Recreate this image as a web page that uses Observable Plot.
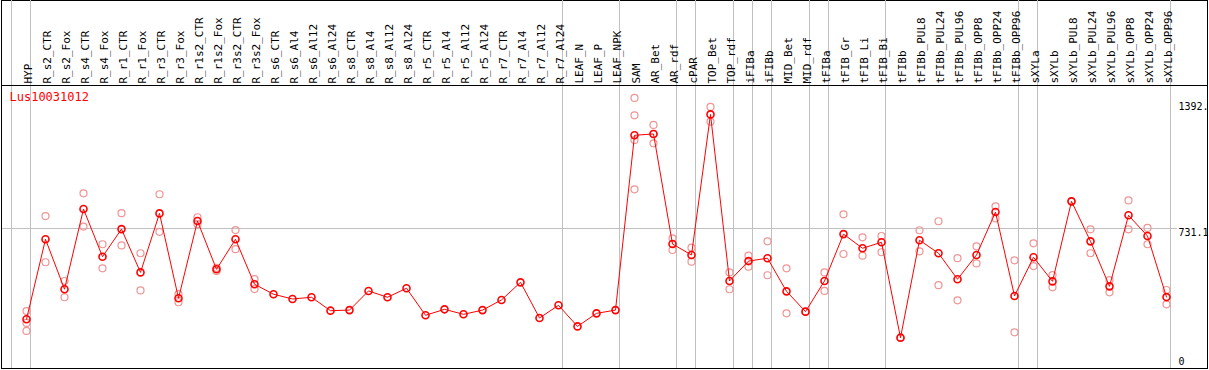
<!DOCTYPE html>
<html><head><meta charset="utf-8">
<script src="https://cdn.jsdelivr.net/npm/d3@7"></script>
<script src="https://cdn.jsdelivr.net/npm/@observablehq/plot@0.6"></script>
<style>body{margin:0;background:#fff} svg{display:block}</style>
</head><body><div id="chart"></div>
<script>
const geneId = "Lus10031012";
const tissues = ["HYP","R_s2_CTR","R_s2_Fox","R_s4_CTR","R_s4_Fox","R_r1_CTR","R_r1_Fox","R_r3_CTR","R_r3_Fox","R_r1s2_CTR","R_r1s2_Fox","R_r3s2_CTR","R_r3s2_Fox","R_s6_CTR","R_s6_Al4","R_s6_Al12","R_s6_Al24","R_s8_CTR","R_s8_Al4","R_s8_Al12","R_s8_Al24","R_r5_CTR","R_r5_Al4","R_r5_Al12","R_r5_Al24","R_r7_CTR","R_r7_Al4","R_r7_Al12","R_r7_Al24","LEAF_N","LEAF_P","LEAF_NPK","SAM","AR_Bet","AR_rdf","cPAR","TOP_Bet","TOP_rdf","iFIBa","iFIBb","MID_Bet","MID_rdf","tFIBa","tFIB_Gr","tFIB_Li","tFIB_Bi","tFIBb","tFIBb_PUL8","tFIBb_PUL24","tFIBb_PUL96","tFIBb_OPP8","tFIBb_OPP24","tFIBb_OPP96","sXYLa","sXYLb","sXYLb_PUL8","sXYLb_PUL24","sXYLb_PUL96","sXYLb_OPP8","sXYLb_OPP24","sXYLb_OPP96"];
const means = [257,675,414,833,584,728,502,810,367,770,518,675,440,388,363,372,302,305,405,372,419,278,309,283,305,358,450,264,330,220,288,305,1218,1225,650,593,1327,457,561,576,403,297,457,702,628,659,161,670,602,466,593,817,379,581,455,873,664,429,800,692,373];
const replicates = [[300,238,196],[796,555],[457,372],[915,741],[649,523],[811,643],[602,408],[910,714],[388,346],[790,753],[526,509],[723,623],[467,415],[],[],[],[],[],[],[],[],[],[],[],[],[],[],[],[],[],[],[],[1413,1322,1193,936],[1272,1225,1176],[680,619],[631,558],[1366,1289],[502,414],[589,532],[664,487],[523,288],[297],[502,405],[805,598],[685,589],[692,607],[161],[722,612],[769,435],[576,356],[638,549],[847,784],[565,189],[654,535],[488,424],[873],[727,602],[462,398],[878,727],[734,649],[410,335]];
const groupBreaks = [-1,0,28,31,34,35,37,38,39,41,42,45,52,53,60];
const yTicks = [0, 731.1, 1392];
const yTickLabels = ["0", "731.1", "1392."];

const meanData = tissues.map((t, i) => ({i, t, v: means[i]}));
const repData = replicates.flatMap((r, i) => r.map(v => ({i, v})));
const tickData = yTicks.map((v, i) => ({v, label: yTickLabels[i]}));

const plot = Plot.plot({
  width: 1209, height: 370,
  marginTop: 85, marginBottom: 2, marginLeft: 1, marginRight: 2,
  x: {domain: [0, tissues.length - 1], range: [26, 1166], axis: null},
  y: {domain: [0, 1478], axis: null},
  style: {fontFamily: "DejaVu Sans Mono", background: "#fff", overflow: "visible"},
  marks: [
    Plot.frame({stroke: "#000", insetTop: -85}),
    Plot.ruleX(groupBreaks, {x: d => d + 4/19, stroke: "#c0c0c0", insetTop: -85}),
    Plot.ruleY([yTicks[1]], {stroke: "#c0c0c0", insetRight: 30}),
    Plot.frame({stroke: "#000"}),
    Plot.text(tissues, {x: (d, i) => i, text: d => d, frameAnchor: "top", rotate: -90, textAnchor: "start", dx: -2, dy: -2, fontSize: 11, fill: "#000", ariaLabel: "tissue"}),
    Plot.text([geneId], {frameAnchor: "top-left", text: d => d, dx: 8, dy: 7, lineAnchor: "top", fill: "#ff0000", fontSize: 12, ariaLabel: "gene"}),
    Plot.text(tickData.filter(d => d.v > 0), {y: "v", text: "label", frameAnchor: "right", textAnchor: "start", dx: -29, dy: 4.5, fontSize: 10, fill: "#000"}),
    Plot.text(tickData.filter(d => d.v === 0), {y: "v", text: "label", frameAnchor: "right", textAnchor: "start", dx: -29, dy: -6.5, fontSize: 10, fill: "#000"}),
    Plot.dot(repData, {x: "i", y: "v", r: 3.5, stroke: "#f09494", strokeWidth: 1.2}),
    Plot.line(meanData, {x: "i", y: "v", stroke: "#ff0000", strokeWidth: 1}),
    Plot.dot(meanData, {x: "i", y: "v", r: 3.5, stroke: "#ff0000", strokeWidth: 1.6})
  ]
});
document.getElementById("chart").appendChild(plot);
d3.select(plot).selectAll('g[aria-label="tissue"] text')
  .attr("textLength", function() { return this.textContent.length * 6; })
  .attr("lengthAdjust", "spacingAndGlyphs");
d3.select(plot).selectAll('g[aria-label="gene"] text')
  .attr("textLength", function() { return this.textContent.length * 6; })
  .attr("lengthAdjust", "spacingAndGlyphs");
</script>
</body></html>
